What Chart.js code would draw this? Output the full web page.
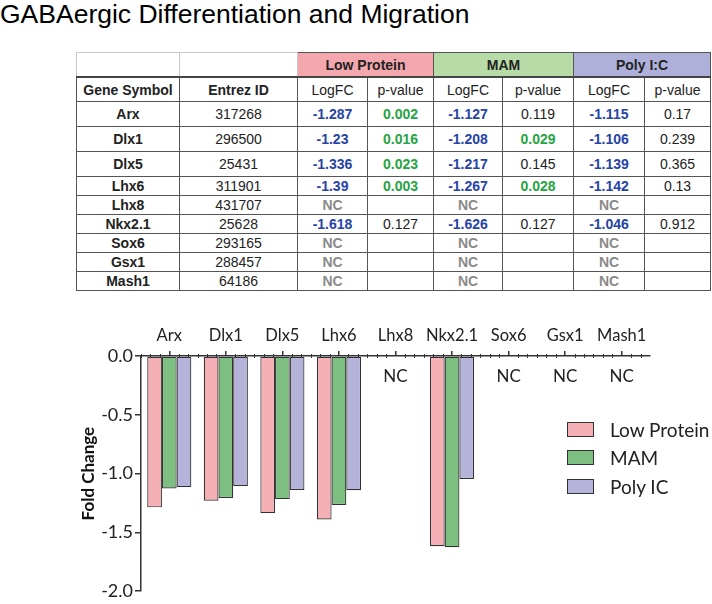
<!DOCTYPE html>
<html>
<head>
<meta charset="utf-8">
<script src="https://cdn.jsdelivr.net/npm/chart.js@4/dist/chart.umd.min.js"></script>
<style>
  html, body { margin: 0; padding: 0; background: #fff; }
  body { width: 712px; height: 604px; position: relative; overflow: hidden; font-family: "Liberation Sans", Arial, sans-serif; }
  #title { position: absolute; left: 0; top: -1px; font-size: 26.5px; color: #000; white-space: nowrap; line-height: 30px; }
  table { position: absolute; left: 76px; top: 52px; border-collapse: collapse; table-layout: fixed; font-size: 14px; color: #222; }
  td { text-align: center; padding: 0; border: 1px solid #555; white-space: nowrap; overflow: hidden; }
  tr.grp td { height: 23px; font-weight: bold; font-size: 14px; border-bottom: 2.5px solid #444; }
  tr.grp td.blank { border: 1px solid #c8c8c8; border-bottom: 2.5px solid #444; }
  tr.hdr td { height: 23px; }
  tr.hdr td.b { font-weight: bold; }
  tr.big td { height: 24px; }
  tr.small td { height: 18px; }
  td.gene { font-weight: bold; }
  td.fc { font-weight: bold; color: #2643a6; }
  td.sig { font-weight: bold; color: #25a442; }
  td.nc { font-weight: bold; color: #8a8a8a; }
  #legend { position: absolute; left: 567px; top: 415px; font-family: Lato, "Open Sans", sans-serif; font-size: 19px; color: #222; }
  #legend div { height: 28.5px; display: flex; align-items: center; }
  #legend span.box { display: inline-block; width: 25px; height: 13px; border: 1.2px solid #333; margin-right: 16px; }
  #chartWrap { position: absolute; left: 0; top: 300px; width: 712px; height: 304px; }
</style>
</head>
<body>
<div id="title">GABAergic Differentiation and Migration</div>
<table id="tbl"></table>
<div id="chartWrap"><canvas id="c" width="712" height="304"></canvas></div>
<div id="legend"></div>
<script>
// ---- data ----
const genes = ['Arx', 'Dlx1', 'Dlx5', 'Lhx6', 'Lhx8', 'Nkx2.1', 'Sox6', 'Gsx1', 'Mash1'];
const entrezIds = ['317268', '296500', '25431', '311901', '431707', '25628', '293165', '288457', '64186'];
const groupNames = ['Low Protein', 'MAM', 'Poly I:C'];
const seriesNames = ['Low Protein', 'MAM', 'Poly IC'];
const lowProteinLogFC = [-1.287, -1.23, -1.336, -1.39, null, -1.618, null, null, null];
const lowProteinP = ['0.002', '0.016', '0.023', '0.003', null, '0.127', null, null, null];
const mamLogFC = [-1.127, -1.208, -1.217, -1.267, null, -1.626, null, null, null];
const mamP = ['0.119', '0.029', '0.145', '0.028', null, '0.127', null, null, null];
const polyLogFC = [-1.115, -1.106, -1.139, -1.142, null, -1.046, null, null, null];
const polyP = ['0.17', '0.239', '0.365', '0.13', null, '0.912', null, null, null];
const yTicks = [0, -0.5, -1.0, -1.5, -2.0];

const groupColors = ['#f4a7ad', '#b6dba7', '#aeb0d9'];
const barColors = ['#f5b0b5', '#7dbf80', '#b6b3db'];

// ---- table ----
const colWidths = [103, 118, 70, 66, 69, 71, 71, 66];
const tbl = document.getElementById('tbl');
let html = '<colgroup>' + colWidths.map(w => '<col style="width:' + w + 'px">').join('') + '</colgroup>';
html += '<tr class="grp"><td class="blank"></td><td class="blank"></td>' +
  groupNames.map((g, i) => '<td colspan="2" style="background:' + groupColors[i] + '">' + g + '</td>').join('') + '</tr>';
html += '<tr class="hdr"><td class="b">Gene Symbol</td><td class="b">Entrez ID</td>' +
  '<td>LogFC</td><td>p-value</td>'.repeat(3) + '</tr>';
const fcs = [lowProteinLogFC, mamLogFC, polyLogFC];
const ps = [lowProteinP, mamP, polyP];
genes.forEach((g, r) => {
  html += '<tr class="' + (r < 3 ? 'big' : 'small') + '"><td class="gene">' + g + '</td><td>' + entrezIds[r] + '</td>';
  for (let s = 0; s < 3; s++) {
    const fc = fcs[s][r];
    const p = ps[s][r];
    html += fc === null ? '<td class="nc">NC</td>' : '<td class="fc">' + fc + '</td>';
    if (p === null) html += '<td></td>';
    else html += '<td class="' + (parseFloat(p) < 0.05 ? 'sig' : '') + '">' + p + '</td>';
  }
  html += '</tr>';
});
tbl.innerHTML = html;

// ---- legend ----
document.getElementById('legend').innerHTML = seriesNames.map((n, i) =>
  '<div><span class="box" style="background:' + barColors[i] + '"></span>' + n + '</div>').join('');

// ---- chart ----
const chartFont = 'Lato';
const axisColor = '#333';

const extrasPlugin = {
  id: 'extras',
  afterDraw(chart) {
    const ctx = chart.ctx;
    const xs = chart.scales.x;
    const top = chart.chartArea.top;
    const step = (xs.getPixelForValue(1) - xs.getPixelForValue(0)) / 6;
    ctx.save();
    ctx.strokeStyle = axisColor;
    ctx.lineWidth = 1;
    for (let i = 0; i < genes.length; i++) {
      const cx = xs.getPixelForValue(i);
      for (let k = -3; k <= 2; k++) {
        if (k === 0) continue;
        const x = Math.round(cx + k * step) + 0.5;
        ctx.beginPath();
        ctx.moveTo(x, top - 2);
        ctx.lineTo(x, top + 2);
        ctx.stroke();
      }
    }
    // NC labels for genes without change
    ctx.fillStyle = '#222';
    ctx.font = '17px ' + chartFont;
    ctx.textAlign = 'center';
    ctx.textBaseline = 'middle';
    genes.forEach((g, i) => {
      if (lowProteinLogFC[i] === null && mamLogFC[i] === null && polyLogFC[i] === null) {
        ctx.fillText('NC', xs.getPixelForValue(i), top + 21);
      }
    });
    ctx.restore();
  }
};

new Chart(document.getElementById('c'), {
  type: 'bar',
  data: {
    labels: genes,
    datasets: [
      { label: seriesNames[0], data: lowProteinLogFC, backgroundColor: barColors[0] },
      { label: seriesNames[1], data: mamLogFC, backgroundColor: barColors[1] },
      { label: seriesNames[2], data: polyLogFC, backgroundColor: barColors[2] }
    ].map(d => Object.assign(d, { borderColor: '#333', borderWidth: 1.2, borderSkipped: false, categoryPercentage: 0.78, barPercentage: 1 }))
  },
  options: {
    responsive: false,
    animation: false,
    devicePixelRatio: 1,
    layout: { padding: { left: 0, top: 0, right: 62, bottom: 8 } },
    plugins: { legend: { display: false }, tooltip: { enabled: false } },
    scales: {
      x: {
        position: 'top',
        offset: true,
        grid: { display: true, offset: false, drawOnChartArea: false, drawTicks: true, tickLength: 5, color: axisColor, lineWidth: 1.5 },
        border: { display: true, color: axisColor, width: 1.5 },
        ticks: { color: '#222', font: { family: chartFont, size: 16.5 }, padding: 5, maxRotation: 0, autoSkip: false },
        afterFit(s) { s.height = 56; }
      },
      y: {
        min: -2, max: 0,
        afterBuildTicks(s) { s.ticks = yTicks.map(v => ({ value: v })); },
        grid: { display: true, drawOnChartArea: false, drawTicks: true, tickLength: 6, color: axisColor, lineWidth: 1.5 },
        border: { display: true, color: axisColor, width: 1.5 },
        ticks: { color: '#222', font: { family: chartFont, size: 18 }, padding: 2, callback: v => Number(v).toFixed(1) },
        title: { display: true, text: 'Fold Change', color: '#111', font: { family: chartFont, size: 17, weight: 'bold' }, padding: { top: 78, bottom: 0 } },
        afterFit(s) { s.width = 141; }
      }
    }
  },
  plugins: [extrasPlugin]
});
</script>
</body>
</html>
